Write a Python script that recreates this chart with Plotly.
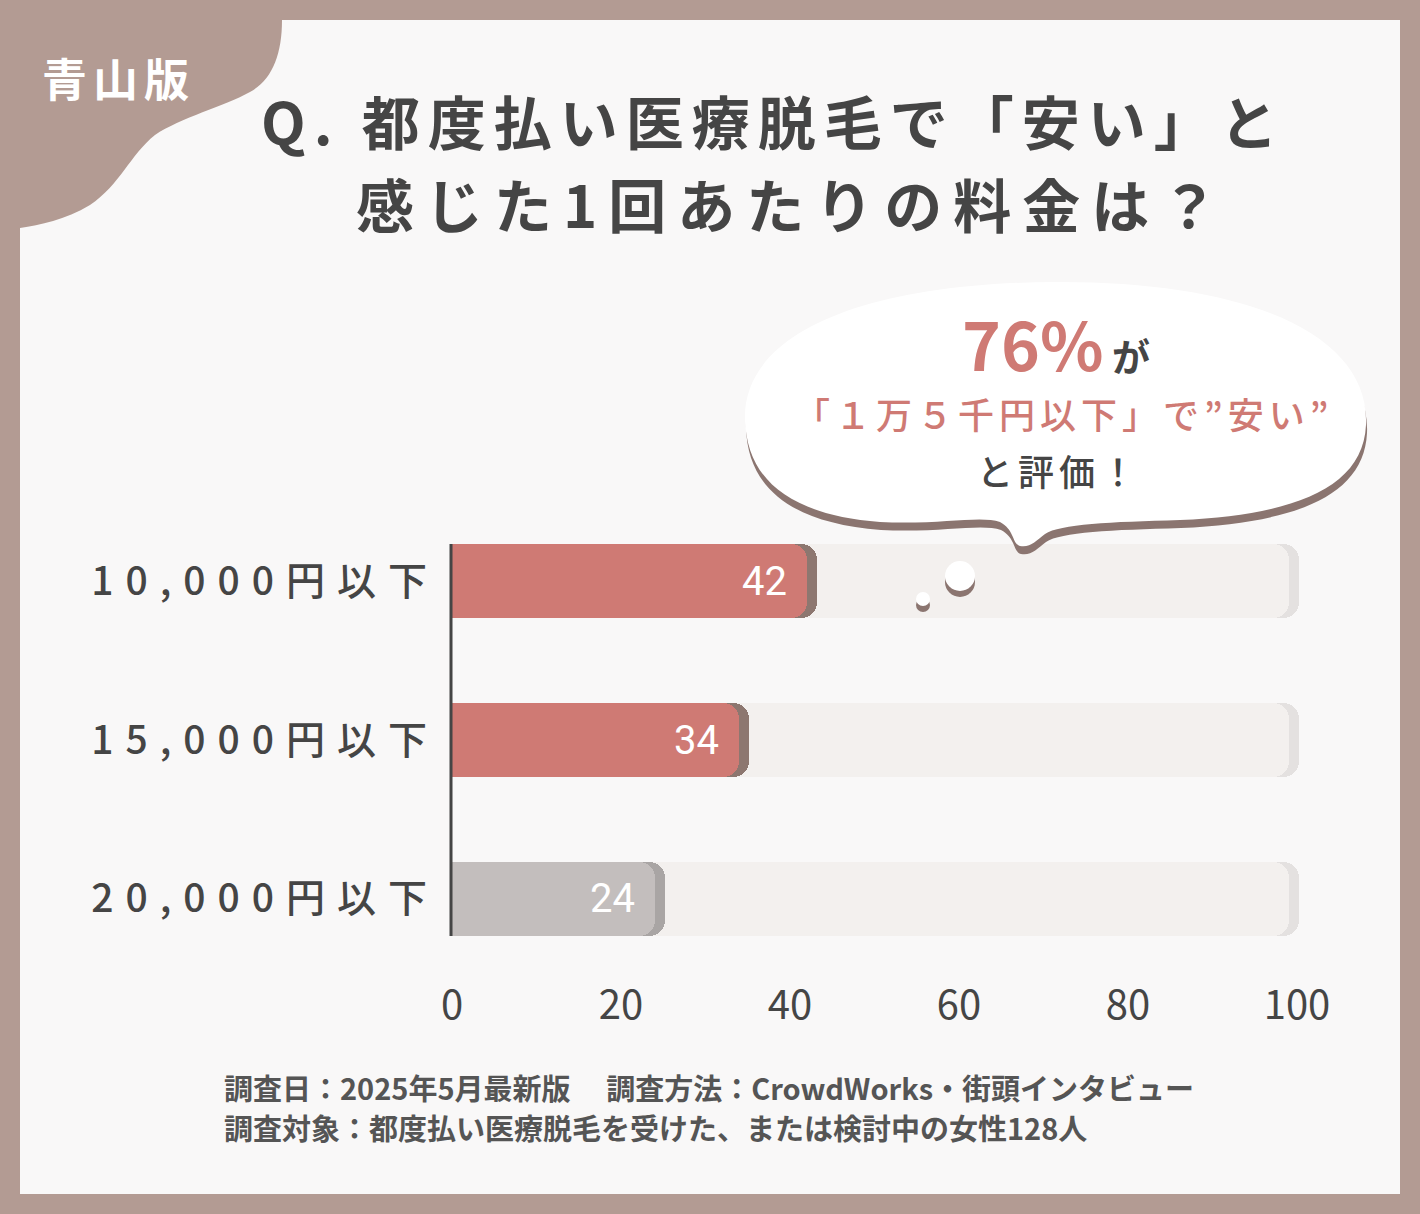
import plotly.graph_objects as go

# ---------------- data ----------------
categories = ["10,000円以下", "15,000円以下", "20,000円以下"]
values = [42, 34, 24]
track_max = 99
x_ticks = [0, 20, 40, 60, 80, 100]
title_line1 = "Q. 都度払い医療脱毛で「安い」と"
title_line2 = "感じた1回あたりの料金は？"
tag_text = "青山版"
bubble_pct = "76%"
bubble_ga = "が"
bubble_line2 = "「１万５千円以下」で”安い”"
bubble_line3 = "と評価！"
footer1 = "調査日：2025年5月最新版　 調査方法：CrowdWorks・街頭インタビュー"
footer2 = "調査対象：都度払い医療脱毛を受けた、または検討中の女性128人"

# ---------------- style ----------------
W, H = 1420, 1214
L, T, B = 452, 502, 236
PW = 862
PH = H - T - B
R = W - L - PW
PXU = 8.45
XMAX = PW / PXU
SHADOW = 1.2
BAR_W = 0.466
CR = 16
FONT = "Noto Sans CJK JP"
BROWN = "#b39b93"
DARK = "#454545"
SALMON = "#cf7a74"
bar_colors = [SALMON, SALMON, "#c3bebd"]
shadow_colors = ["#8d7770", "#8d7770", "#a9a5a4"]


def xp(px):
    return (px - L) / PW


def yp(py):
    return (T + PH - py) / PH


def path(cmds):
    out = []
    for c in cmds:
        if isinstance(c, str):
            out.append(c)
        else:
            out.append(f"{xp(c[0]):.5f},{yp(c[1]):.5f}")
    return " ".join(out)


def shift(cmds, dx, dy):
    return [c if isinstance(c, str) else (c[0] + dx, c[1] + dy) for c in cmds]


def spaced(txt, px):
    return f"<span style='letter-spacing:{px}px'>{txt}</span>"


ypos = list(range(len(categories)))

fig = go.Figure()
# each layer on its own overlaid y axis so rounded ends are computed per layer
layers = [
    ([track_max + SHADOW] * len(ypos), "#e4e1e0", "y"),
    ([track_max] * len(ypos), "#f3f0ee", "y2"),
    ([v + SHADOW for v in values], shadow_colors, "y3"),
    (values, bar_colors, "y4"),
]
for xs, col, ax in layers:
    fig.add_trace(go.Bar(x=xs, y=ypos, orientation="h", width=BAR_W, yaxis=ax,
                         marker=dict(color=col, cornerradius=CR, line_width=0),
                         hoverinfo="skip", showlegend=False))

shapes = []
# inner white card
shapes.append(dict(type="rect", xref="paper", yref="paper", x0=xp(20), x1=xp(1400),
                   y0=yp(1194), y1=yp(20), fillcolor="#f9f8f8", line_width=0, layer="below"))
# corner tag
tag = ["M", (20, 20), "L", (282, 20), "C", (282, 55), (272, 80), (250, 92),
       "C", (225, 106), (180, 118), (155, 135), "C", (130, 155), (120, 185), (90, 205),
       "C", (65, 220), (40, 225), (20, 228), "Z"]
shapes.append(dict(type="path", xref="paper", yref="paper", path=path(tag),
                   fillcolor=BROWN, line_width=0, layer="below"))
# axis line
shapes.append(dict(type="line", xref="paper", yref="paper", x0=xp(451), x1=xp(451),
                   y0=yp(544), y1=yp(936), line=dict(color=DARK, width=3), layer="above"))
# speech bubble
bubble = ["M", (745, 420),
          "C", (742, 335), (860, 283), (1055, 282),
          "C", (1250, 281), (1370, 335), (1366, 425),
          "C", (1363, 490), (1290, 515), (1180, 520),
          "C", (1110, 522), (1060, 524), (1045, 534),
          "C", (1036, 541), (1030, 548), (1020, 546),
          "C", (1012, 544), (1015, 530), (1000, 522),
          "C", (980, 515), (940, 525), (880, 522),
          "C", (790, 515), (747, 480), (745, 420), "Z"]
shapes.append(dict(type="path", xref="paper", yref="paper", path=path(shift(bubble, 1, 8)),
                   fillcolor="#8b7570", line_width=0, layer="above"))
shapes.append(dict(type="path", xref="paper", yref="paper", path=path(bubble),
                   fillcolor="#ffffff", line_width=0, layer="above"))
# little thought circles
for cx, cy, r in [(960, 576, 15), (923, 599, 7)]:
    shapes.append(dict(type="circle", xref="paper", yref="paper",
                       x0=xp(cx - r), x1=xp(cx + r), y0=yp(cy + r + 6), y1=yp(cy - r + 6),
                       fillcolor="#8b7570", line_width=0, layer="above"))
    shapes.append(dict(type="circle", xref="paper", yref="paper",
                       x0=xp(cx - r), x1=xp(cx + r), y0=yp(cy + r), y1=yp(cy - r),
                       fillcolor="#ffffff", line_width=0, layer="above"))

ann = []


def add_text(text, px, py, size, color, xanchor="center", weight="bold"):
    ann.append(dict(text=text, xref="paper", yref="paper", x=xp(px), y=yp(py),
                    xanchor=xanchor, yanchor="middle", showarrow=False,
                    font=dict(family=FONT, size=size, color=color, weight=weight)))


# tag
add_text(spaced(tag_text, 6), 118, 77, 45, "#ffffff")
# title
add_text(spaced(title_line1, 8), 773, 120, 58, DARK)
add_text(spaced(title_line2, 11), 792, 203, 58, DARK)
# bubble text
ann.append(dict(text=f"<span style='font-size:66px;color:{SALMON}'>{bubble_pct}</span>"
                     f"<span style='letter-spacing:0px'> </span>{bubble_ga}",
                xref="paper", yref="paper", x=xp(1056), y=yp(342), xanchor="center",
                yanchor="middle", showarrow=False,
                font=dict(family=FONT, size=38, color=DARK, weight="bold")))
add_text(spaced(bubble_line2, 5), 1063, 413, 36, SALMON, weight=500)
add_text(spaced(bubble_line3, 5), 1059, 470, 36, DARK, weight=500)
# bar value labels
for i, v in enumerate(values):
    ann.append(dict(text=str(v), x=v, y=i, xref="x", yref="y", xanchor="right", xshift=-18,
                    yanchor="middle", showarrow=False,
                    font=dict(family="Roboto", size=40, color="#ffffff")))
# footer
add_text(footer1, 222, 1087, 29, "#555555", xanchor="left")
add_text(footer2, 222, 1127, 29, "#555555", xanchor="left")

yrange = [len(categories) - 0.5, -0.5]
hidden_y = dict(range=yrange, overlaying="y", visible=False, fixedrange=True)

fig.update_layout(
    width=W, height=H,
    margin=dict(l=L, r=R, t=T, b=B),
    paper_bgcolor=BROWN, plot_bgcolor="rgba(0,0,0,0)",
    barmode="overlay", bargap=0,
    shapes=shapes, annotations=ann,
    xaxis=dict(range=[0, XMAX], tickvals=x_ticks, ticktext=[str(t) for t in x_ticks],
               showgrid=False, zeroline=False, showline=False, ticks="",
               tickfont=dict(family=FONT, size=40, color=DARK), ticklabelstandoff=0),
    yaxis=dict(range=yrange, tickvals=ypos,
               ticktext=[spaced(c, 12) for c in categories],
               showgrid=False, zeroline=False, showline=False, ticks="",
               tickfont=dict(family=FONT, size=39, color=DARK, weight=500), ticklabelstandoff=12),
    yaxis2=hidden_y, yaxis3=hidden_y, yaxis4=hidden_y,
    font=dict(family=FONT),
)

fig.write_html("out.html", config={"displayModeBar": False},
               post_script="document.body.style.margin='0px';")
